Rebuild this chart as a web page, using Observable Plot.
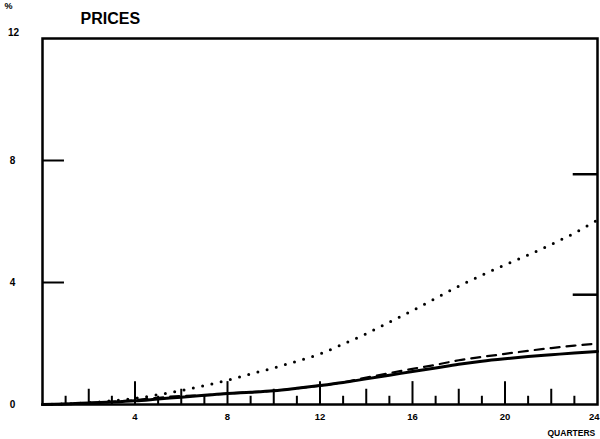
<!DOCTYPE html>
<html>
<head>
<meta charset="utf-8">
<script src="https://cdn.jsdelivr.net/npm/d3@7"></script>
<script src="https://cdn.jsdelivr.net/npm/@observablehq/plot@0.6"></script>
<style>
  html, body { margin: 0; padding: 0; background: #fff; }
  svg { display: block; }
</style>
</head>
<body>
<div id="chart"></div>
<script>
const quarters = [0,1,2,3,4,5,6,7,8,9,10,11,12,13,14,15,16,17,18,19,20,21,22,23,24];
const solidSeries = [0,0.02,0.05,0.08,0.12,0.18,0.24,0.3,0.36,0.4,0.45,0.53,0.62,0.72,0.84,0.96,1.08,1.2,1.32,1.42,1.5,1.57,1.63,1.69,1.74];
const dashedSeries = [0,0.02,0.05,0.09,0.14,0.22,0.28,0.3,0.36,0.4,0.45,0.53,0.62,0.73,0.88,1.03,1.17,1.3,1.45,1.56,1.66,1.76,1.85,1.93,2.0];
const dottedSeries = [0,0.02,0.06,0.12,0.2,0.32,0.46,0.62,0.8,1.0,1.2,1.42,1.66,1.98,2.32,2.7,3.08,3.48,3.88,4.24,4.58,4.9,5.25,5.62,6.05];
const xTickLabels = [4,8,12,16,20];
const xLastLabel = [24];
const yTickLabels = [0,4,8];
const yTopLabel = [12];
const leftInnerTicks = [4,8];
const rightInnerTicks = [3.6,7.55];
const minorQuarters = [1,2,3,4,5,6,7,8,9,10,11,12,13,14,15,16,17,18,19,20,21,22,23];

const toRows = (vals) => quarters.map((q, i) => ({q, v: vals[i]}));
const font = "'Liberation Sans', Arial, sans-serif";

const tickLen = q => (q % 4 === 0 ? 0.75 : q % 2 === 0 ? 0.5 : 0.27);

const chart = Plot.plot({
  width: 600,
  height: 439,
  marginLeft: 42,
  marginRight: 3,
  marginTop: 38,
  marginBottom: 35,
  style: {fontFamily: font, background: "#fff", color: "#000"},
  x: {type: "linear", domain: [0, 24], axis: null},
  y: {type: "linear", domain: [0, 12], axis: null},
  marks: [
    Plot.frame({stroke: "#000", strokeWidth: 2.5}),
    // bottom inward ticks
    Plot.ruleX(minorQuarters, {x: d => d, y1: () => 0, y2: d => tickLen(d), stroke: "#000", strokeWidth: 2}),
    // left and right inward ticks
    Plot.ruleY(leftInnerTicks, {y: d => d, x1: () => 0, x2: () => 0.95, stroke: "#000", strokeWidth: 2}),
    Plot.ruleY(rightInnerTicks, {y: d => d, x1: () => 22.95, x2: () => 24, stroke: "#000", strokeWidth: 2.5}),
    // series
    Plot.line(toRows(solidSeries), {x: "q", y: "v", curve: "monotone-x", stroke: "#000", strokeWidth: 3}),
    Plot.line(toRows(dashedSeries), {x: "q", y: "v", curve: "monotone-x", stroke: "#000", strokeWidth: 2.2, strokeDasharray: "9,7"}),
    Plot.line(toRows(dottedSeries), {x: "q", y: "v", curve: "monotone-x", stroke: "#000", strokeWidth: 3, strokeDasharray: "0,9.5", strokeLinecap: "round"}),
    // x tick labels
    Plot.text(xTickLabels, {x: d => d, y: () => 0, dy: 12, text: d => String(d), fontSize: 9.5, fontWeight: "bold", fill: "#000"}),
    Plot.text(xLastLabel, {x: d => d, y: () => 0, dy: 12, dx: 2, text: d => String(d), textAnchor: "end", fontSize: 9.5, fontWeight: "bold", fill: "#000"}),
    // y tick labels
    Plot.text(yTickLabels, {x: () => 0, y: d => d, dx: -30, text: d => String(d), fontSize: 10, fontWeight: "bold", fill: "#000"}),
    Plot.text(yTopLabel, {x: () => 0, y: d => d, dx: -29, dy: -6, text: d => String(d), fontSize: 10, fontWeight: "bold", fill: "#000"}),
    // axis caption
    Plot.text(["QUARTERS"], {x: () => 24, y: () => 0, dx: -50, dy: 29, text: d => d, textAnchor: "start", fontSize: 8.5, fontWeight: "bold", fill: "#000", style: "letter-spacing:0.6px"}),
    Plot.text(["%"], {x: () => 0, y: () => 12, dx: -38, dy: -32, text: d => d, textAnchor: "start", fontSize: 9, fontWeight: "bold", fill: "#000"}),
    Plot.text(["PRICES"], {x: () => 0, y: () => 12, dx: 38, dy: -20, text: d => d, textAnchor: "start", fontSize: 16, fontWeight: "bold", fill: "#000", style: "letter-spacing:2.5px"})
  ]
});
document.getElementById("chart").appendChild(chart);
</script>
</body>
</html>
